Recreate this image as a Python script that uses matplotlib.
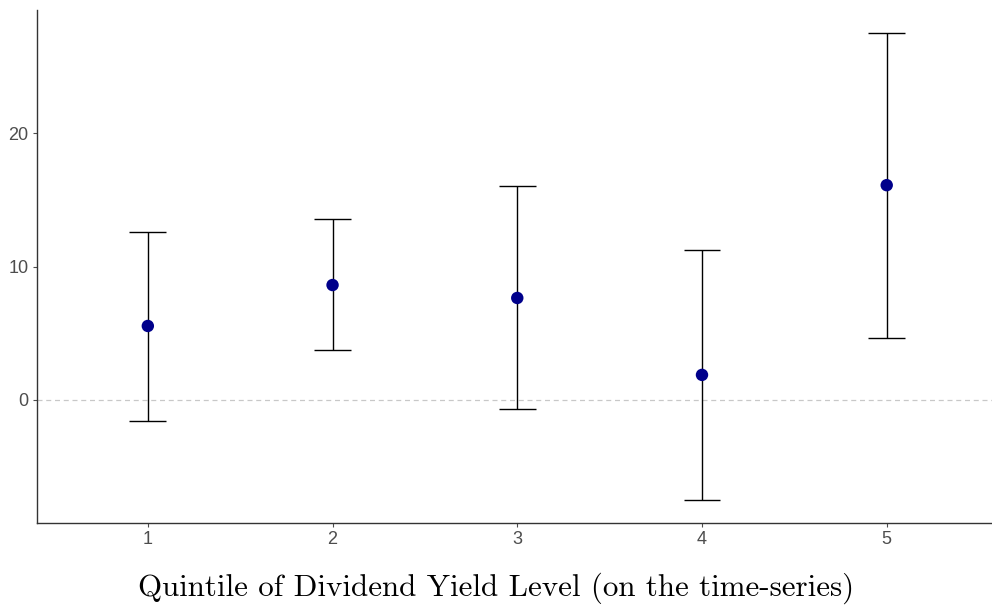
import matplotlib.pyplot as plt

# Mean return by dividend-yield quintile with confidence bounds
quintiles = [1, 2, 3, 4, 5]
estimate = [5.54, 8.61, 7.64, 1.87, 16.10]
lower = [-1.57, 3.75, -0.67, -7.49, 4.64]
upper = [12.58, 13.56, 16.03, 11.24, 27.49]

fig = plt.figure(figsize=(9.92, 6.07), dpi=100)
ax = fig.add_axes([37 / 992, 84 / 607, 955 / 992, 513 / 607])

ax.axhline(0, color="#c8c8c8", linestyle=(0, (4, 3)), linewidth=0.9, zorder=1)

cap_half = 0.1
for q, lo, hi in zip(quintiles, lower, upper):
    ax.vlines(q, lo, hi, color="black", linewidth=1.0, zorder=2)
    ax.hlines([lo, hi], q - cap_half, q + cap_half, color="black", linewidth=1.0, zorder=2)

ax.scatter(quintiles, estimate, s=80, color="#00008B", edgecolor="none", zorder=3)

ax.set_xlim(0.4, 5.57)
span = max(upper) - min(lower)
ax.set_ylim(min(lower) - 0.05 * span, max(upper) + 0.05 * span)
ax.set_xticks(quintiles)
ax.set_xticklabels([str(q) for q in quintiles])
ax.set_yticks([0, 10, 20])

for side in ["top", "right"]:
    ax.spines[side].set_visible(False)
for side in ["left", "bottom"]:
    ax.spines[side].set_color("#333333")
    ax.spines[side].set_linewidth(1.0)

ax.tick_params(axis="both", colors="#4d4d4d", labelsize=13, length=3, width=0.8, pad=3)
for lbl in ax.get_xticklabels() + ax.get_yticklabels():
    lbl.set_family("Liberation Sans")

ax.set_xlabel("Quintile of Dividend Yield Level (on the time-series)",
              family="cmr10", fontsize=22.3, color="black")
# centre the title on the figure rather than the panel
ax.xaxis.set_label_coords(0.4806, -0.097)

plt.savefig("out.png", dpi=100, facecolor="white")
